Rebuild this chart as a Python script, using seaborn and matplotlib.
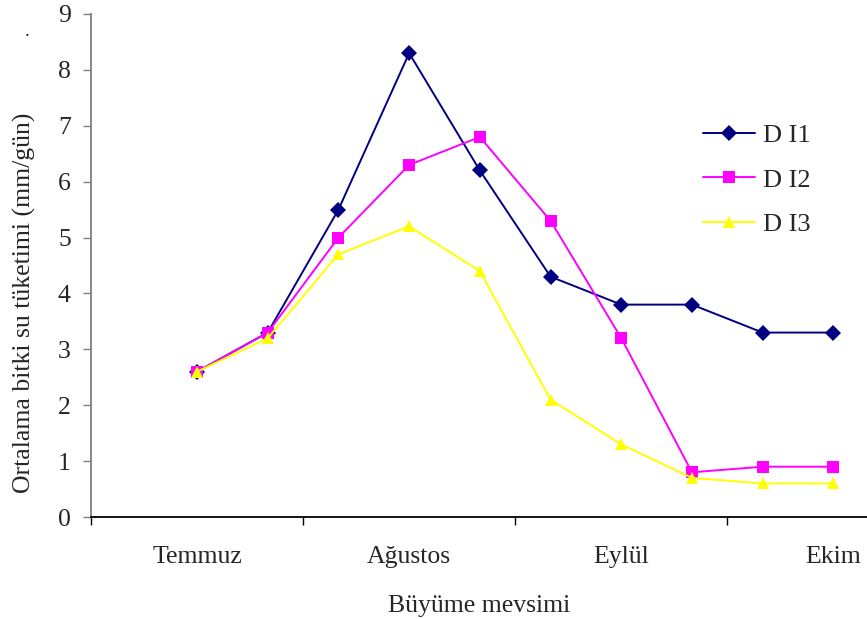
import numpy as np
import pandas as pd
import matplotlib
matplotlib.use("Agg")
import matplotlib.pyplot as plt
import seaborn as sns

# Measurement periods within the growing season (10 readings)
periods = list(range(1, 11))
di1 = [2.6, 3.3, 5.5, 8.3, 6.2, 4.3, 3.8, 3.8, 3.3, 3.3]
di2 = [2.6, 3.3, 5.0, 6.3, 6.8, 5.3, 3.2, 0.8, 0.9, 0.9]
di3 = [2.6, 3.2, 4.7, 5.2, 4.4, 2.1, 1.3, 0.7, 0.6, 0.6]
series_names = ["D I1", "D I2", "D I3"]
months = ["Temmuz", "Ağustos", "Eylül", "Ekim"]

sns.set_style("white")
plt.rcParams["font.family"] = ["Liberation Serif", "DejaVu Serif"]

df = pd.DataFrame({
    "period": periods * 3,
    "value": di1 + di2 + di3,
    "series": sum([[n] * len(periods) for n in series_names], []),
})
# place each reading at the centre of its slot on the axis
df["x"] = df["period"] + 0.5

fig = plt.figure(figsize=(8.67, 6.19), dpi=100)
ax = fig.add_axes([91 / 867, 1 - 517 / 619, 1 - 91 / 867, (517 - 14) / 619])

palette = {"D I1": "#000080", "D I2": "#FF00FF", "D I3": "#FFFF00"}
markers = {"D I1": "D", "D I2": "s", "D I3": "^"}
sns.lineplot(data=df, x="x", y="value", hue="series", style="series",
             palette=palette, markers=markers, dashes=False,
             markersize=8.5, markeredgewidth=0, linewidth=1.4, ax=ax)

ax.set_xlim(0, (867 - 91) / 70.7)
ax.set_ylim(0, 9)
ax.set_yticks(range(0, 10))
ax.set_xticks([0, 3, 6, 9])
ax.set_xticklabels([])
ax.set_xticks([1.5, 4.5, 7.5, 10.5], minor=True)
ax.set_xticklabels(months, minor=True)
ax.tick_params(axis="x", which="major", length=6, width=1, color="black", direction="out")
ax.tick_params(axis="x", which="minor", length=0, pad=21, labelsize=18.5)
ax.tick_params(axis="y", length=6, width=1, color="#808080", direction="out",
               labelsize=18.5, pad=8.5)
ax.tick_params(bottom=True, left=True)

for s in ["top", "right"]:
    ax.spines[s].set_visible(False)
ax.spines["left"].set_color("#808080")
ax.spines["left"].set_linewidth(1.3)
ax.spines["bottom"].set_color("black")
ax.spines["bottom"].set_linewidth(1.3)

ax.set_xlabel("Büyüme mevsimi", fontsize=18.5, labelpad=19)
ax.set_ylabel("Ortalama bitki su tüketimi (mm/gün)", fontsize=18.5)
ax.yaxis.set_label_coords(-0.071, 0.425)

leg = ax.legend(title=None, frameon=False, fontsize=19, loc="upper left",
                bbox_to_anchor=(0.789, 0.782), borderaxespad=0, borderpad=0,
                handlelength=1.97, labelspacing=0.8, handletextpad=0.3)

fig.text(27 / 867, 1 - 32 / 619, ".", fontsize=14, ha="center", va="center")

fig.savefig("out.png", dpi=100)
